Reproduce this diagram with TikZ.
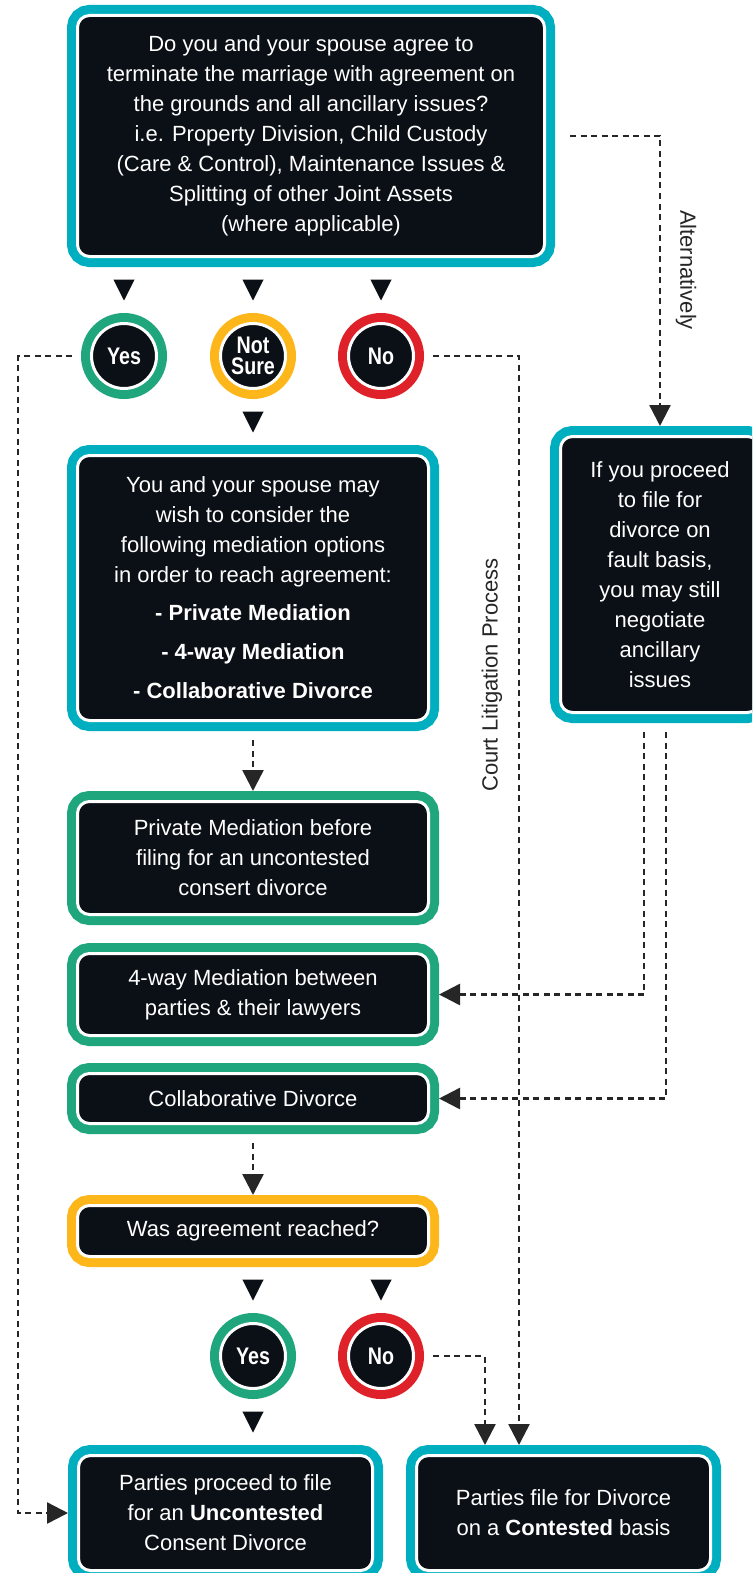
\documentclass[tikz,border=0pt]{standalone}
\usepackage{fontspec}
\setmainfont{Liberation Sans}
\newfontfamily\condfont[FakeStretch=0.82]{Liberation Sans}
\usetikzlibrary{arrows.meta}

\definecolor{tealc}{HTML}{00AFBF}
\definecolor{greenc}{HTML}{20A67D}
\definecolor{yellowc}{HTML}{FDB71A}
\definecolor{redc}{HTML}{DF2129}
\definecolor{boxfill}{HTML}{0B1016}
\definecolor{linec}{HTML}{262626}

\tikzset{
  qbox/.style={rounded corners=12pt, fill=boxfill, draw=white, line width=3pt, text=white, align=center, inner sep=0pt, outer sep=10.5pt, font=\fontsize{22}{30}\selectfont, preaction={draw=#1, line width=21pt}},
  ring/.style={circle, fill=boxfill, draw=white, line width=3pt, text=white, align=center, inner sep=0pt, outer sep=10.5pt, minimum size=65pt, font=\condfont\bfseries\fontsize{24}{21}\selectfont, preaction={draw=#1, line width=21pt}},
  tri/.style={-{Triangle[width=21pt,length=21pt]}, color=boxfill, line width=1pt, shorten <=12.5pt, shorten >=12.5pt},
  dline/.style={-{Triangle[width=21pt,length=21pt]}, color=linec, line width=2.5pt, dash pattern=on 6pt off 4.5pt, shorten <=9pt},
  side/.style={text=linec, font=\fontsize{22}{26}\selectfont}
}

\begin{document}
\begin{tikzpicture}[x=1pt, y=-1pt]
\useasboundingbox (0,0) rectangle (752,1573);
\clip (0,0) rectangle (752,1573);
\fill[white] (0,0) rectangle (752,1573);

% question
\node[qbox=tealc, minimum width=467pt, minimum height=241pt] (agree) at (311,136) {Do you and your spouse agree to\\terminate the marriage with agreement on\\the grounds and all ancillary issues?\\i.e. Property Division, Child Custody\\(Care \& Control), Maintenance Issues \&\\Splitting of other Joint Assets\\(where applicable)};

% answers
\node[ring=greenc] (yes1) at (124,356) {Yes};
\node[ring=yellowc] (unsure) at (253,356) {Not\\Sure};
\node[ring=redc] (no1) at (381,356) {No};

% mediation
\node[qbox=tealc, minimum width=351pt, minimum height=265pt] (mediate) at (253,588) {You and your spouse may\\wish to consider the\\following mediation options\\in order to reach agreement:\\[8pt]\textbf{- Private Mediation}\\[9pt]\textbf{- 4-way Mediation}\\[9pt]\textbf{- Collaborative Divorce}};
\node[qbox=tealc, minimum width=199pt, minimum height=276pt] (fault) at (660,574.5) {If you proceed\\to file for\\divorce on\\fault basis,\\you may still\\negotiate\\ancillary\\issues};
\node[qbox=greenc, minimum width=351pt, minimum height=113pt] (pm) at (253,858) {Private Mediation before\\filing for an uncontested\\consert divorce};
\node[qbox=greenc, minimum width=351pt, minimum height=82pt] (four) at (253,994.5) {4-way Mediation between\\parties \& their lawyers};
\node[qbox=greenc, minimum width=351pt, minimum height=50pt] (collab) at (253,1098.5) {Collaborative Divorce};
\node[qbox=yellowc, minimum width=351pt, minimum height=51pt] (was) at (253,1231) {Was agreement reached?};
\node[ring=greenc] (yes2) at (253,1356) {Yes};
\node[ring=redc] (no2) at (381,1356) {No};

% outcomes
\node[qbox=tealc, minimum width=294pt, minimum height=115pt] (unc) at (225.5,1513) {Parties proceed to file\\for an \textbf{Uncontested}\\Consent Divorce};
\node[qbox=tealc, minimum width=294pt, minimum height=115pt] (con) at (563.5,1513) {Parties file for Divorce\\on a \textbf{Contested} basis};

\node[side, rotate=-90] (altlbl) at (686,270) {Alternatively};
\node[side, rotate=90] (courtlbl) at (492,675) {Court Litigation Process};

\coordinate (lrail) at (18,0);
\coordinate (crail) at (519,0);
\coordinate (nrail) at (485,0);

% solid arrows
\draw[tri] (agree.south -| yes1) -- (yes1.north);
\draw[tri] (agree.south -| unsure) -- (unsure.north);
\draw[tri] (agree.south -| no1) -- (no1.north);
\draw[tri] (unsure.south) -- (mediate.north);
\draw[tri] (was.south) -- (yes2.north);
\draw[tri] (was.south -| no2) -- (no2.north);
\draw[tri] (yes2.south) -- (yes2.south |- unc.north);

% dashed arrows
\draw[dline, shorten <=15pt] (agree.east) -| (fault.north);
\draw[dline] (yes1.west) -| (lrail |- unc.west) -- (unc.west);
\draw[dline] (no1.east) -| (crail |- con.north);
\draw[dline] (no2.east) -| (nrail |- con.north);
\draw[dline] (mediate.south) -- (pm.north);
\draw[dline] (collab.south) -- (was.north);
\draw[dline] ([xshift=-16pt]fault.south) |- (four.east);
\draw[dline] ([xshift=6pt]fault.south) |- (collab.east);
\end{tikzpicture}
\end{document}
